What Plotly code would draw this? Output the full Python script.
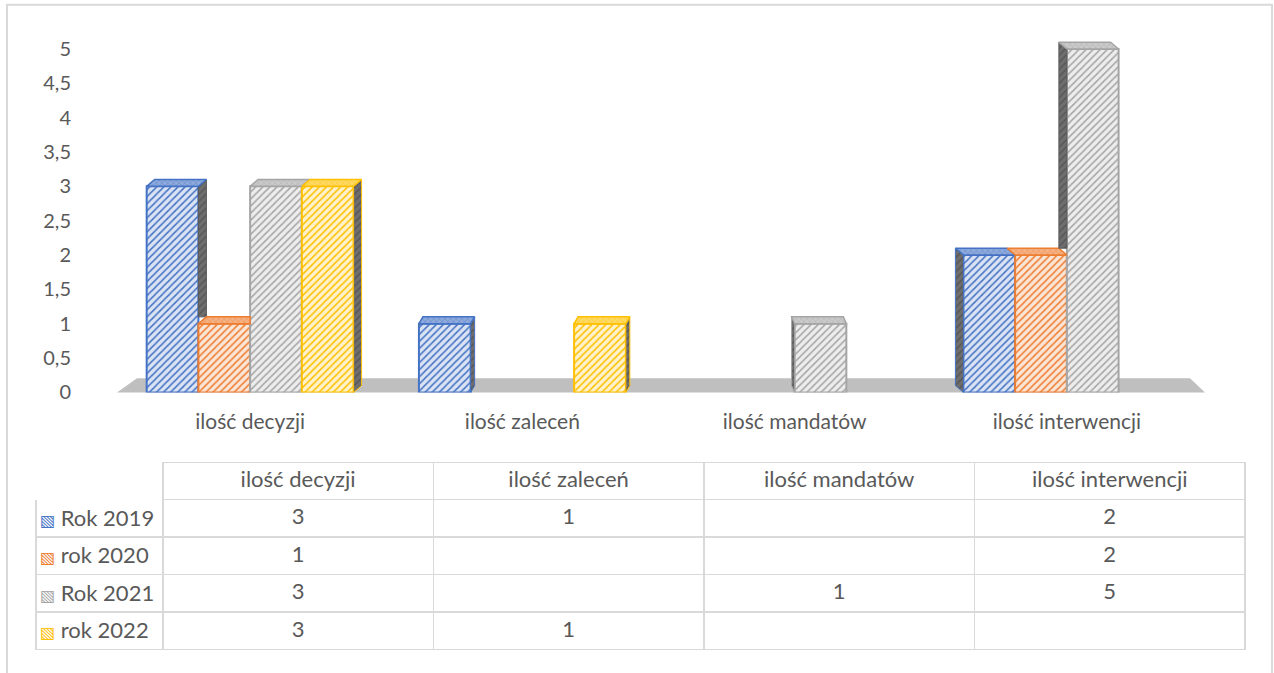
import plotly.graph_objects as go

# dane z wykresu
kategorie = ['ilość decyzji', 'ilość zaleceń', 'ilość mandatów', 'ilość interwencji']
serie = ['Rok 2019', 'rok 2020', 'Rok 2021', 'rok 2022']
rok_2019 = [3, 1, None, 2]
rok_2020 = [1, None, None, 2]
rok_2021 = [3, None, 1, 5]
rok_2022 = [3, 1, None, None]
y_ticks = [0, 0.5, 1, 1.5, 2, 2.5, 3, 3.5, 4, 4.5, 5]

kolory = ['#4472C4', '#ED7D31', '#A5A5A5', '#FFC000']
tla = ['#DAE3F3', '#FBE5D6', '#EDEDED', '#FFF2CC']
gora = ['#8EA9DB', '#F4B183', '#C9C9C9', '#FFD966']
wartosci = [rok_2019, rok_2020, rok_2021, rok_2022]

W, H = 1274, 673
FONT = 'Lato'
TXT = '#595959'
LINIA = '#D9D9D9'

# przeglądarka lekko ściska stronę w pionie - korekta
SKALA_Y, PRZES_Y = 0.9766, 3.2


def fy(p):
    return (p - PRZES_Y) / SKALA_Y


def px_x(p):
    return p / W


def px_y(p):
    # p - pozycja docelowa na zrzucie
    return min(1, max(0, 1 - fy(p) / H))


# geometria osi
X_LEFT, X_RIGHT = 114, 1203
Y_ZERO, Y_FIVE = 392, 50
Y_MAX = 5.15
PX_PER_Y = (fy(Y_ZERO) - fy(Y_FIVE)) / 5
PX_PER_X = (X_RIGHT - X_LEFT) / 4

BAR_W = 0.19
DX_PX = [8, 4, -3, -8]   # przesunięcie perspektywy dla kategorii
DY_PX = 7

fig = go.Figure()

for i, (nazwa, vals, kol, tlo) in enumerate(zip(serie, wartosci, kolory, tla)):
    fig.add_trace(go.Bar(
        x=list(range(len(kategorie))),
        y=vals,
        name=nazwa,
        width=BAR_W,
        offset=(i - 2) * BAR_W,
        marker=dict(
            color=tlo,
            line=dict(color=kol, width=2),
            pattern=dict(shape='/', fgcolor=kol, bgcolor=tlo,
                         size=5, solidity=0.3, fillmode='replace'),
        ),
        showlegend=False,
        hoverinfo='skip',
    ))

# ściany 3D słupków (góra i bok), liczone z wartości
dy = DY_PX / PX_PER_Y
for c in range(len(kategorie)):
    dx = DX_PX[c] / PX_PER_X
    for i, vals in enumerate(wartosci):
        v = vals[c]
        if not v:
            continue
        x0 = c + (i - 2) * BAR_W
        x1 = x0 + BAR_W
        if dx > 0:
            sasiad = wartosci[i + 1][c] if i + 1 < len(wartosci) else None
            xe = x1
        else:
            sasiad = wartosci[i - 1][c] if i > 0 else None
            xe = x0
        sasiad = sasiad or 0
        # bok
        if sasiad < v:
            lo = sasiad + (dy if sasiad > 0 else 0)
            fig.add_trace(go.Scatter(
                x=[xe, xe, xe + dx, xe + dx, xe],
                y=[lo, v, v + dy, lo + dy if sasiad == 0 else lo, lo],
                mode='lines', fill='toself',
                fillcolor='#5A5A5A',
                fillpattern=dict(shape='/', fgcolor='#3F3F3F', bgcolor='#6E6E6E', size=5, solidity=0.3),
                line=dict(color=kolory[i] if sasiad == 0 else '#5A5A5A', width=1),
                showlegend=False, hoverinfo='skip',
            ))
        # góra
        if dx > 0:
            xr = x1 + dx if sasiad <= v else x1
            xs = [x0, x1, xr, x0 + dx, x0]
        else:
            xl = x0 + dx if sasiad <= v else x0
            xs = [x0, x1, x1 + dx, xl, x0]
        fig.add_trace(go.Scatter(
            x=xs, y=[v, v, v + dy, v + dy, v],
            mode='lines', fill='toself',
            fillcolor=gora[i],
            fillpattern=dict(shape='x', fgcolor=kolory[i], bgcolor=gora[i], size=4, solidity=0.3),
            line=dict(color=kolory[i], width=1.5),
            showlegend=False, hoverinfo='skip',
        ))

# tabela danych pod wykresem
def fmt(v):
    return '' if v is None else str(v)


# pierwsza kolumna pusta - nazwy serii z kluczem legendy jako adnotacje
kolumny = [['' for _ in serie]]
for c in range(len(kategorie)):
    kolumny.append([fmt(v[c]) for v in wartosci])

TAB_TOP, HEAD_H, ROW_H = 462, 36, 36.6
fig.add_trace(go.Table(
    domain=dict(x=[px_x(36), px_x(1245)], y=[px_y(655), px_y(TAB_TOP)]),
    columnwidth=[127, 271, 271, 271, 271],
    header=dict(
        values=[''] + kategorie,
        align=['left', 'center'],
        height=HEAD_H / SKALA_Y,
        fill_color='white',
        line=dict(color=['white', LINIA, LINIA, LINIA, LINIA], width=1.5),
        font=dict(family=FONT, size=22, color=TXT),
    ),
    cells=dict(
        values=kolumny,
        align=['left', 'center'],
        height=ROW_H / SKALA_Y,
        fill_color='white',
        line=dict(color=LINIA, width=1.5),
        font=dict(family=FONT, size=22, color=TXT),
    ),
))

for i, (nazwa, kol) in enumerate(zip(serie, kolory)):
    fig.add_annotation(
        text=f"<span style='color:{kol};font-size:16px;font-family:DejaVu Sans'>▧</span> {nazwa}",
        x=px_x(38), y=px_y(TAB_TOP + HEAD_H + 37.2 * i + 37.2 / 2),
        xref='paper', yref='paper', xanchor='left', yanchor='middle',
        showarrow=False, font=dict(family=FONT, size=22, color=TXT),
    )

# podłoga wykresu 3D
fig.add_shape(
    type='path',
    path=f"M {px_x(117)} {px_y(392)} L {px_x(1205)} {px_y(392)} "
         f"L {px_x(1190)} {px_y(378)} L {px_x(137)} {px_y(378)} Z",
    xref='paper', yref='paper',
    fillcolor='#BFBFBF', line=dict(width=0), layer='below',
)

# ramka wykresu
fig.add_shape(
    type='rect', xref='paper', yref='paper',
    x0=px_x(7), x1=px_x(1272), y0=-0.05, y1=px_y(6),
    line=dict(color=LINIA, width=2), fillcolor='rgba(0,0,0,0)',
)

fig.update_layout(
    width=W, height=H,
    margin=dict(l=0, r=0, t=0, b=0),
    plot_bgcolor='white', paper_bgcolor='white',
    separators=', ',
    barmode='overlay',
    font=dict(family=FONT, size=20, color=TXT),
    xaxis=dict(
        domain=[px_x(X_LEFT), px_x(X_RIGHT)],
        range=[-0.5, 3.5],
        tickvals=list(range(len(kategorie))),
        ticktext=kategorie,
        tickfont=dict(size=21),
        anchor='y',
        showgrid=False, showline=False, zeroline=False,
        ticks='', ticklabelstandoff=15,
    ),
    yaxis=dict(
        domain=[px_y(Y_ZERO), 1 - (fy(Y_ZERO) - Y_MAX * PX_PER_Y) / H],
        range=[0, Y_MAX],
        tickvals=y_ticks,
        showgrid=False, showline=False, zeroline=False,
        ticks='', ticklabelstandoff=42,
    ),
)

fig.write_html(
    "out.html",
    config={'displayModeBar': False},
    post_script="document.body.style.margin='0';"
                "var d=document.getElementById('{plot_id}');"
                "d.style.position='fixed';d.style.left='0';d.style.top='0';",
)
